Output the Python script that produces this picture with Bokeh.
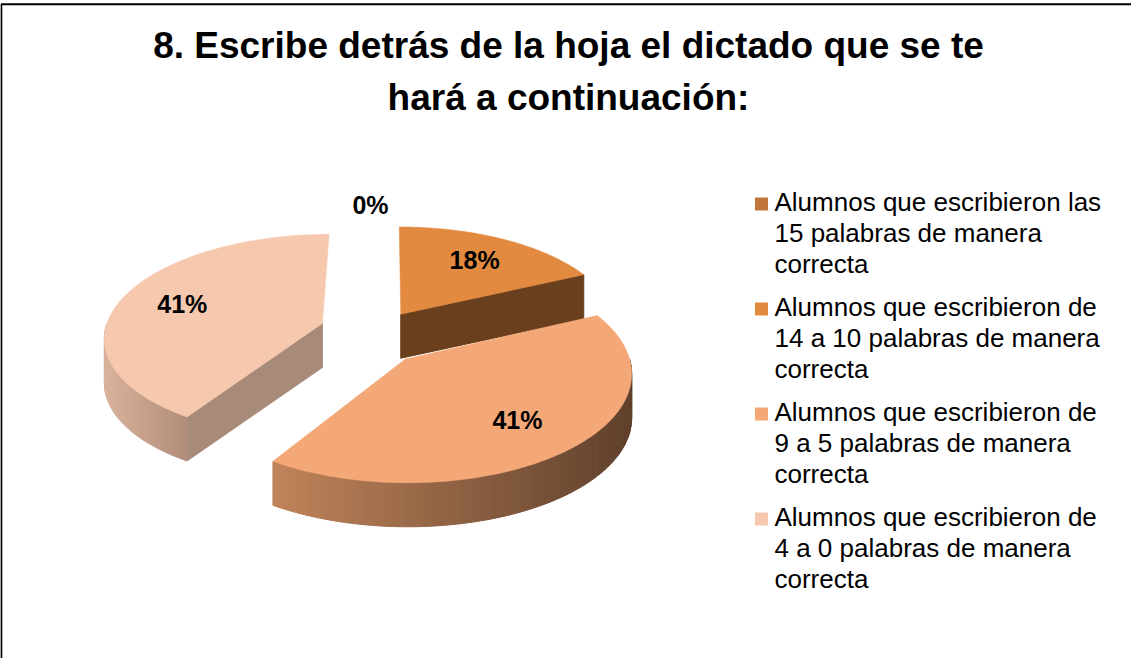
import math
import textwrap
from bokeh.plotting import figure
from bokeh.models import Range1d
from bokeh.embed import file_html
from bokeh.resources import INLINE
from bokeh.core.properties import value

# ---------------- data ----------------
title_lines = ["8. Escribe detrás de la hoja el dictado que se te",
               "hará a continuación:"]
categories = [
    "Alumnos que escribieron las 15 palabras de manera correcta",
    "Alumnos que escribieron de 14 a 10 palabras de manera correcta",
    "Alumnos que escribieron de 9 a 5 palabras de manera correcta",
    "Alumnos que escribieron de 4 a 0 palabras de manera correcta",
]
percentages = [0, 18, 41, 41]

# ---------------- style ----------------
top_colors = ["#C0763A", "#E38A41", "#F4A877", "#F6C9AE"]
side_light = [(150, 90, 45), (150, 90, 45), (192, 132, 90), (218, 178, 156)]
side_dark = [(95, 55, 25), (95, 55, 25), (95, 64, 44), (176, 141, 122)]
radial_colors = ["#6A3F1D", "#6A3F1D", "#6E4A33", "#A88A79"]
explode = [0.0, 0.125, 0.125, 0.31]
explode_v = [2.2, 2.2, 2.2, 1.6]
CX, CY, A, B, K, DEPTH = 394, 345, 219, 103, 0.12, 44
FONT = value("Liberation Sans")

W, H = 1131, 658
p = figure(width=W, height=H, x_range=Range1d(8, 8 + W), y_range=Range1d(8 + H, 8),
           x_axis_type=None, y_axis_type=None, toolbar_location=None,
           output_backend="svg", min_border=0, outline_line_color=None)
p.background_fill_color = "white"


def proj(U, V, dz=0.0):
    f = 1.0 / (1.0 - K * V)
    return CX + A * U * f, CY + B * V * f + dz


def hexc(c):
    return "#%02x%02x%02x" % tuple(int(round(v)) for v in c)


# slice angles (clockwise from 12 o'clock)
total = sum(percentages)
starts, ends = [], []
acc = 0.0
for v in percentages:
    starts.append(acc * 360.0 / total)
    acc += v
    ends.append(acc * 360.0 / total)

info = []
for i, v in enumerate(percentages):
    m = math.radians((starts[i] + ends[i]) / 2)
    offU = explode[i] * math.sin(m)
    offV = -explode_v[i] * explode[i] * math.cos(m)
    info.append((offU, offV, m))

order = sorted(range(len(percentages)),
               key=lambda i: info[i][1] - 0.5 * math.cos(info[i][2]))

for i in order:
    if percentages[i] == 0:
        continue
    offU, offV, m = info[i]
    t1, t2 = starts[i], ends[i]

    # radial cut faces
    faces_x, faces_y = [], []
    for t, vis in ((t1, -math.sin(math.radians(t1)) > 1e-6),
                   (t2, math.sin(math.radians(t2)) > 1e-6)):
        if not vis:
            continue
        r = math.radians(t)
        eU, eV = offU + math.sin(r), offV - math.cos(r)
        pts = [proj(offU, offV), proj(eU, eV), proj(eU, eV, DEPTH), proj(offU, offV, DEPTH)]
        faces_x.append([q[0] for q in pts])
        faces_y.append([q[1] for q in pts])
    if faces_x:
        p.patches(faces_x, faces_y, fill_color=radial_colors[i],
                  line_color=radial_colors[i], line_width=1)

    # outer curved side (front half only), as shaded strips
    lo, hi = max(t1, 90.0), min(t2, 270.0)
    if hi > lo:
        n = max(2, int((hi - lo) / 1.5))
        angs = [lo + (hi - lo) * k / n for k in range(n + 1)]
        tops = []
        for a_ in angs:
            r = math.radians(a_)
            tops.append((offU + math.sin(r), offV - math.cos(r)))
        xs_all = [proj(*q)[0] for q in tops]
        xmin, xmax = min(xs_all), max(xs_all)
        sx, sy, sc = [], [], []
        for k in range(n):
            a0, a1 = tops[k], tops[k + 1]
            q = [proj(*a0), proj(*a1), proj(*a1, DEPTH), proj(*a0, DEPTH)]
            sx.append([pt[0] for pt in q])
            sy.append([pt[1] for pt in q])
            xm = (q[0][0] + q[1][0]) / 2
            tt = (xm - xmin) / (xmax - xmin) if xmax > xmin else 0
            c = [side_light[i][j] + (side_dark[i][j] - side_light[i][j]) * tt for j in range(3)]
            sc.append(hexc(c))
        p.patches(sx, sy, fill_color=sc, line_color=sc, line_width=1)

    # top face
    n = max(2, int((t2 - t1) / 1.0))
    tx, ty = [], []
    ax, ay = proj(offU, offV)
    tx.append(ax); ty.append(ay)
    for k in range(n + 1):
        r = math.radians(t1 + (t2 - t1) * k / n)
        x, y = proj(offU + math.sin(r), offV - math.cos(r))
        tx.append(x); ty.append(y)
    p.patch(tx, ty, fill_color=top_colors[i], line_color=top_colors[i], line_width=0.5)

# data labels
lx, ly, lt = [], [], []
for i, v in enumerate(percentages):
    offU, offV, m = info[i]
    if v == 0:
        x, y = proj(1.52 * math.sin(m), -1.52 * math.cos(m))
        x -= 16
    else:
        x, y = proj(offU + 0.7 * math.sin(m), offV - 0.7 * math.cos(m))
    lx.append(x); ly.append(y); lt.append(f"{v}%")
p.text(lx, ly, text=lt, text_align="center", text_baseline="middle",
       text_font=FONT, text_font_style="bold", text_font_size="25px", text_color="black")

# title
p.text([576, 576], [53, 105], text=title_lines, text_align="center",
       text_baseline="middle", text_font=FONT, text_font_style="bold",
       text_font_size="37px", text_color="black")

# legend
gx, gy, gt = [], [], []
for i, cat in enumerate(categories):
    base = 218 + i * 105
    p.rect(x=[769], y=[base - 6.5], width=13, height=13,
           fill_color=top_colors[i], line_color=None)
    for j, line in enumerate(textwrap.wrap(cat, 27)):
        gx.append(782); gy.append(base - 9 + j * 31); gt.append(line)
p.text(gx, gy, text=gt, text_align="left", text_baseline="middle",
       text_font=FONT, text_font_size="26px", text_color="black")

# chart border (top and left visible)
p.line([8.8, 8.8, 1139], [666, 11.8, 11.8], line_color="black", line_width=2)

open("out.html", "w").write(file_html(p, INLINE))
